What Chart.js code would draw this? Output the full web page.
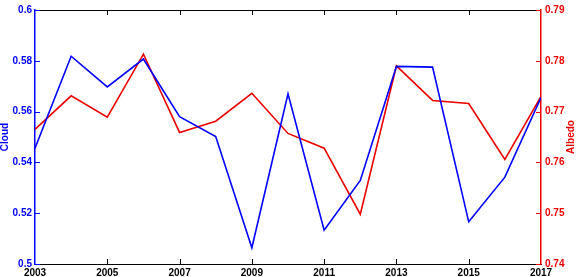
<!DOCTYPE html>
<html>
<head>
<meta charset="utf-8">
<script src="https://cdn.jsdelivr.net/npm/chart.js@4/dist/chart.umd.min.js"></script>
<style>
  html, body { margin: 0; padding: 0; background: #fff; }
  #wrap { width: 576px; height: 277px; position: relative; }
</style>
</head>
<body>
<div id="wrap"><canvas id="chart"></canvas></div>
<script>
var years = [2003, 2004, 2005, 2006, 2007, 2008, 2009, 2010, 2011, 2012, 2013, 2014, 2015, 2016, 2017];
var cloud = [0.5456, 0.5818, 0.5697, 0.5807, 0.558, 0.5502, 0.5064, 0.567, 0.5133, 0.5329, 0.5778, 0.5775, 0.5166, 0.5342, 0.5655];
var albedo = [0.7665, 0.7731, 0.7689, 0.7813, 0.7659, 0.7681, 0.7736, 0.7657, 0.7628, 0.7498, 0.779, 0.7722, 0.7716, 0.7606, 0.773];
var xTicks = [2003, 2005, 2007, 2009, 2011, 2013, 2015, 2017];
var cloudTicks = [0.5, 0.52, 0.54, 0.56, 0.58, 0.6];
var albedoTicks = [0.74, 0.75, 0.76, 0.77, 0.78, 0.79];

var BLUE = 'rgb(0, 0, 255)';
var RED = 'rgb(235, 0, 0)';
var FONT = { family: 'Liberation Sans, Arial, sans-serif', size: 10, weight: 'bold' };

function pts(vals) {
  return years.map(function(y, i) { return { x: y, y: vals[i] }; });
}

// inward tick marks, top border and axis titles
var decor = {
  id: 'decor',
  afterDraw: function(chart) {
    var c = chart.ctx, a = chart.chartArea;
    var x = chart.scales.x, yl = chart.scales.y, yr = chart.scales.y1;
    c.save();
    c.lineWidth = 1;
    c.strokeStyle = '#000';
    c.beginPath();
    c.moveTo(a.left, a.top + 0.5); c.lineTo(a.right, a.top + 0.5);
    xTicks.forEach(function(t) {
      var px = Math.round(x.getPixelForValue(t)) + 0.5;
      if (t === 2003 || t === 2017) return;
      c.moveTo(px, a.bottom); c.lineTo(px, a.bottom - 5);
      c.moveTo(px, a.top); c.lineTo(px, a.top + 5);
    });
    c.stroke();
    c.strokeStyle = BLUE;
    c.beginPath();
    cloudTicks.forEach(function(t) {
      var py = Math.round(yl.getPixelForValue(t)) + 0.5;
      c.moveTo(a.left, py); c.lineTo(a.left + 5, py);
    });
    c.stroke();
    c.strokeStyle = RED;
    c.beginPath();
    albedoTicks.forEach(function(t) {
      var py = Math.round(yr.getPixelForValue(t)) + 0.5;
      c.moveTo(a.right, py); c.lineTo(a.right - 5, py);
    });
    c.stroke();
    c.font = 'bold 10px Liberation Sans, Arial, sans-serif';
    c.textAlign = 'center';
    c.textBaseline = 'middle';
    var cy = (a.top + a.bottom) / 2;
    c.fillStyle = BLUE;
    c.translate(5, cy); c.rotate(-Math.PI / 2); c.fillText('Cloud', 0, 0);
    c.setTransform(1, 0, 0, 1, 0, 0);
    c.fillStyle = RED;
    c.translate(571, cy); c.rotate(-Math.PI / 2); c.fillText('Albedo', 0, 0);
    c.restore();
  }
};

new Chart(document.getElementById('chart'), {
  type: 'line',
  data: {
    datasets: [{
      label: 'Cloud',
      data: pts(cloud),
      yAxisID: 'y',
      borderColor: BLUE,
      borderWidth: 1.6,
      pointRadius: 0,
      tension: 0,
      fill: false
    }, {
      label: 'Albedo',
      data: pts(albedo),
      yAxisID: 'y1',
      borderColor: RED,
      borderWidth: 1.6,
      pointRadius: 0,
      tension: 0,
      fill: false
    }]
  },
  options: {
    responsive: true,
    maintainAspectRatio: false,
    animation: false,
    layout: { padding: { top: 3, left: 0, right: 0, bottom: 0 } },
    plugins: { legend: { display: false }, tooltip: { enabled: false } },
    scales: {
      x: {
        type: 'linear', min: 2003, max: 2017,
        afterFit: function(s) { s.height = 13; },
        afterBuildTicks: function(s) { s.ticks = xTicks.map(function(v) { return { value: v }; }); },
        grid: { drawOnChartArea: false, drawTicks: false },
        border: { color: '#000', width: 1 },
        ticks: { color: '#000', font: FONT, padding: 3, maxRotation: 0, autoSkip: false,
                 callback: function(v) { return String(v); } }
      },
      y: {
        position: 'left', min: 0.5, max: 0.6,
        afterFit: function(s) { s.width = 35; },
        afterBuildTicks: function(s) { s.ticks = cloudTicks.map(function(v) { return { value: v }; }); },
        grid: { drawOnChartArea: false, drawTicks: false },
        border: { color: BLUE, width: 1.5 },
        ticks: { color: BLUE, font: FONT, padding: 3,
                 callback: function(v) { return String(+v.toFixed(2)); } }
      },
      y1: {
        position: 'right', min: 0.74, max: 0.79,
        afterFit: function(s) { s.width = 35; },
        afterBuildTicks: function(s) { s.ticks = albedoTicks.map(function(v) { return { value: v }; }); },
        grid: { drawOnChartArea: false, drawTicks: false },
        border: { color: RED, width: 1.5 },
        ticks: { color: RED, font: FONT, padding: 4,
                 callback: function(v) { return String(+v.toFixed(2)); } }
      }
    }
  },
  plugins: [decor]
});
</script>
</body>
</html>
